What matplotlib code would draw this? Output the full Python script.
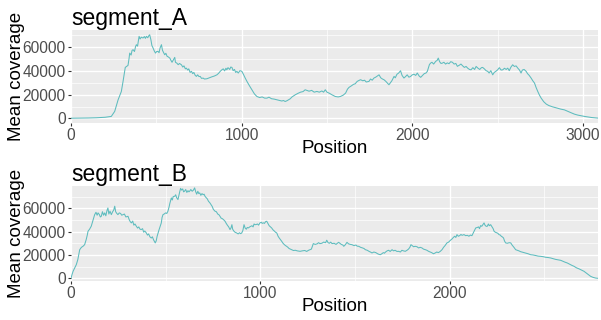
import numpy as np
import matplotlib
matplotlib.use("Agg")
import matplotlib.pyplot as plt
from matplotlib.ticker import MultipleLocator, FixedLocator

plt.rcParams["font.family"] = ["Liberation Sans", "DejaVu Sans"]

# ---- coverage profiles (position, mean coverage in thousands) ----
pos_a = [0, 50, 100, 150, 200, 236, 256, 276, 295, 305, 318, 326, 334, 340, 344, 352, 358, 364, 372, 378,
         383, 390, 399, 405, 412, 422, 430, 436, 442, 450, 455, 461, 468, 474, 481, 488, 495, 502, 510, 516,
         522, 530, 536, 543, 549, 556, 563, 570, 579, 586, 592, 600, 608, 612, 620, 628, 636, 647, 655, 662,
         670, 676, 684, 690, 698, 706, 713, 720, 728, 735, 742, 750, 757, 765, 774, 782, 796, 810, 825, 840,
         855, 865, 875, 884, 892, 900, 908, 913, 920, 930, 936, 943, 950, 958, 965, 972, 980, 990, 1001, 1010,
         1020, 1031, 1045, 1060, 1075, 1089, 1105, 1120, 1135, 1148, 1160, 1175, 1190, 1206, 1220, 1235, 1245, 1255, 1265, 1275,
         1284, 1295, 1305, 1314, 1330, 1345, 1360, 1372, 1382, 1395, 1410, 1425, 1441, 1455, 1470, 1480, 1490, 1500, 1515, 1529,
         1540, 1548, 1565, 1579, 1595, 1609, 1620, 1629, 1640, 1655, 1665, 1677, 1690, 1697, 1710, 1720, 1730, 1746, 1755, 1765,
         1775, 1785, 1795, 1805, 1815, 1825, 1834, 1845, 1855, 1863, 1872, 1880, 1893, 1900, 1910, 1920, 1931, 1940, 1951, 1960,
         1970, 1980, 1990, 2000, 2010, 2020, 2029, 2040, 2049, 2060, 2070, 2080, 2088, 2095, 2100, 2107, 2115, 2125, 2137, 2145,
         2152, 2160, 2168, 2176, 2185, 2195, 2205, 2215, 2225, 2235, 2245, 2255, 2264, 2275, 2285, 2295, 2305, 2315, 2325, 2335,
         2344, 2355, 2365, 2374, 2385, 2395, 2405, 2412, 2422, 2432, 2442, 2450, 2460, 2471, 2480, 2490, 2500, 2510, 2520, 2530,
         2540, 2550, 2559, 2568, 2578, 2588, 2598, 2608, 2618, 2628, 2637, 2645, 2655, 2667, 2675, 2685, 2696, 2706, 2716, 2725,
         2735, 2745, 2755, 2770, 2785, 2800, 2820, 2840, 2852, 2870, 2891, 2910, 2930, 2950, 2970, 2990, 3009, 3030, 3050, 3070,
         3088]
cov_a = [0.2, 0.3, 0.4, 0.6, 1.0, 1.7, 5.9, 15.6, 22.6, 31.0, 42.7, 43.5, 44.4, 50.0, 54.7, 53.0, 57.0, 57.5, 56.0, 60.0,
         61.7, 60.5, 68.7, 66.5, 68.0, 67.3, 68.5, 67.0, 68.7, 67.5, 69.0, 70.0, 66.0, 61.0, 58.9, 56.5, 54.7, 56.0, 56.1, 55.0,
         59.0, 61.7, 57.0, 55.0, 53.3, 54.5, 52.0, 51.5, 50.5, 48.5, 47.0, 49.0, 51.1, 47.0, 46.3, 45.0, 46.0, 44.9, 43.0, 44.0,
         41.5, 42.1, 40.5, 41.5, 38.5, 39.4, 37.5, 38.5, 36.0, 35.2, 36.5, 35.0, 35.2, 33.5, 33.8, 33.0, 33.2, 34.0, 34.8, 35.5,
         36.5, 37.8, 39.5, 40.7, 41.5, 39.8, 42.0, 40.7, 42.5, 41.0, 43.0, 42.7, 40.0, 41.0, 38.5, 39.4, 38.0, 40.0, 39.4, 37.0,
         34.0, 31.0, 27.5, 24.0, 20.5, 18.4, 17.5, 18.0, 17.0, 17.0, 17.8, 16.5, 16.2, 15.6, 15.0, 14.6, 15.0, 14.2, 14.8, 15.6,
         16.4, 18.0, 19.0, 19.8, 21.0, 22.0, 22.5, 24.0, 23.5, 22.8, 23.5, 22.0, 22.6, 22.0, 23.0, 22.0, 24.0, 22.0, 21.0, 19.8,
         19.0, 18.4, 18.0, 18.4, 19.5, 21.2, 24.5, 26.0, 27.0, 28.5, 29.0, 31.0, 32.0, 32.4, 31.5, 32.0, 30.5, 31.0, 33.0, 32.0,
         33.8, 34.5, 35.5, 36.5, 34.0, 33.0, 32.4, 31.0, 29.5, 28.2, 30.0, 31.5, 35.2, 34.0, 37.0, 38.0, 39.9, 36.0, 33.8, 35.0,
         36.5, 34.5, 35.2, 36.5, 37.0, 36.0, 38.0, 35.5, 34.4, 36.0, 37.5, 38.0, 39.4, 42.5, 45.0, 46.3, 47.0, 45.5, 47.8, 48.5,
         50.5, 47.5, 46.0, 46.3, 47.0, 45.5, 46.5, 45.8, 47.5, 47.0, 45.5, 46.0, 43.6, 44.5, 45.5, 44.0, 42.7, 43.5, 42.0, 41.0,
         40.7, 42.5, 41.0, 43.5, 42.0, 41.0, 42.5, 42.7, 41.5, 40.0, 39.4, 38.0, 40.0, 36.5, 38.5, 39.5, 40.7, 42.5, 40.5, 40.7,
         42.0, 41.0, 42.1, 40.0, 43.0, 44.9, 43.5, 44.0, 42.1, 40.5, 38.0, 40.5, 41.0, 39.4, 37.5, 36.0, 33.8, 31.5, 29.6, 26.0,
         22.6, 19.5, 17.0, 14.0, 12.0, 10.8, 9.8, 9.0, 8.6, 7.8, 7.2, 6.0, 4.8, 3.6, 2.8, 2.2, 1.7, 1.2, 0.8, 0.5,
         0.3]

pos_b = [0, 5, 11, 20, 28, 36, 42, 46, 55, 64, 72, 80, 86, 90, 98, 107, 115, 120, 125, 132,
         138, 143, 150, 155, 160, 166, 172, 178, 184, 190, 195, 200, 206, 213, 220, 226, 231, 236, 242, 248,
         255, 262, 268, 275, 282, 290, 301, 308, 313, 319, 326, 332, 338, 345, 352, 358, 365, 371, 378, 384,
         390, 398, 404, 410, 417, 424, 430, 436, 441, 445, 450, 455, 460, 466, 472, 477, 481, 486, 492, 500,
         506, 512, 518, 522, 526, 530, 535, 540, 548, 553, 558, 565, 570, 575, 579, 584, 590, 595, 600, 606,
         612, 618, 623, 627, 633, 640, 647, 653, 659, 664, 670, 675, 680, 686, 692, 698, 703, 708, 714, 720,
         726, 734, 740, 746, 752, 761, 768, 775, 781, 787, 793, 800, 807, 814, 820, 826, 833, 840, 845, 850,
         854, 860, 866, 875, 883, 890, 896, 902, 908, 914, 920, 926, 931, 937, 944, 950, 956, 962, 967, 972,
         978, 985, 991, 998, 1005, 1010, 1016, 1022, 1028, 1034, 1040, 1047, 1054, 1060, 1067, 1074, 1080, 1087, 1094, 1100,
         1107, 1113, 1120, 1126, 1133, 1139, 1146, 1152, 1159, 1166, 1175, 1185, 1195, 1210, 1222, 1235, 1245, 1255, 1263, 1270,
         1275, 1280, 1290, 1300, 1308, 1315, 1325, 1335, 1345, 1351, 1358, 1365, 1372, 1379, 1390, 1400, 1407, 1414, 1420, 1428,
         1436, 1441, 1448, 1458, 1466, 1476, 1484, 1495, 1505, 1512, 1520, 1530, 1540, 1548, 1555, 1565, 1575, 1582, 1590, 1600,
         1610, 1620, 1627, 1634, 1642, 1650, 1656, 1661, 1670, 1678, 1686, 1696, 1704, 1712, 1722, 1731, 1740, 1748, 1756, 1766,
         1775, 1783, 1790, 1796, 1802, 1810, 1818, 1828, 1836, 1845, 1854, 1862, 1872, 1880, 1889, 1898, 1905, 1915, 1924, 1932,
         1941, 1951, 1960, 1968, 1976, 1986, 1995, 2004, 2013, 2020, 2027, 2033, 2039, 2046, 2053, 2060, 2066, 2076, 2085, 2094,
         2102, 2110, 2118, 2124, 2130, 2138, 2146, 2153, 2158, 2164, 2170, 2176, 2182, 2187, 2193, 2199, 2205, 2210, 2217, 2224,
         2230, 2235, 2241, 2248, 2255, 2261, 2268, 2273, 2279, 2285, 2290, 2296, 2305, 2315, 2323, 2330, 2340, 2349, 2358, 2366,
         2375, 2384, 2395, 2405, 2415, 2428, 2440, 2455, 2467, 2481, 2495, 2507, 2520, 2534, 2548, 2560, 2575, 2587, 2600, 2610,
         2622, 2635, 2647, 2657, 2670, 2685, 2697, 2710, 2722, 2733, 2745, 2758, 2772, 2784]
cov_b = [0.0, 3.0, 6.0, 9.0, 11.7, 16.0, 21.0, 24.5, 26.5, 27.5, 28.8, 33.0, 37.0, 40.3, 42.0, 44.6, 49.0, 52.0, 54.5, 56.5,
         54.0, 56.0, 54.5, 52.5, 53.1, 57.0, 54.0, 56.0, 53.5, 58.0, 60.2, 55.0, 57.5, 54.5, 57.0, 58.5, 61.7, 57.0, 55.5, 54.5,
         56.0, 55.5, 54.0, 54.5, 55.0, 52.5, 53.1, 50.0, 48.5, 47.4, 49.0, 45.5, 46.5, 44.6, 43.0, 44.0, 42.0, 41.7, 42.5, 39.5,
         40.5, 38.8, 37.0, 38.0, 35.5, 34.5, 35.5, 33.0, 31.5, 30.3, 32.0, 36.0, 38.8, 42.0, 45.0, 47.4, 52.0, 54.5, 55.0, 56.0,
         55.5, 57.4, 61.0, 64.0, 66.5, 68.8, 67.0, 70.0, 70.2, 71.5, 69.0, 67.4, 71.0, 74.5, 77.0, 75.5, 76.5, 74.0, 74.6, 76.0,
         73.5, 75.0, 74.0, 74.6, 76.0, 74.5, 75.5, 77.4, 74.0, 72.0, 74.5, 72.5, 73.1, 71.0, 72.5, 71.5, 72.0, 70.2, 69.0, 68.0,
         66.0, 64.5, 63.0, 61.5, 59.0, 57.4, 57.0, 55.0, 54.5, 53.1, 51.5, 51.0, 50.0, 48.8, 47.0, 45.5, 44.0, 41.7, 43.0, 45.9,
         42.0, 40.5, 39.5, 38.8, 38.0, 39.0, 38.2, 38.8, 41.0, 45.9, 43.0, 42.0, 43.5, 43.1, 44.0, 44.5, 45.0, 44.0, 46.5, 45.9,
         46.0, 46.5, 45.5, 47.4, 48.0, 47.0, 47.5, 47.0, 48.5, 48.8, 47.0, 45.0, 44.0, 43.1, 41.5, 40.5, 39.5, 38.8, 36.0, 34.5,
         33.0, 31.7, 30.0, 29.0, 28.0, 27.4, 26.5, 25.5, 25.0, 24.5, 23.8, 24.0, 23.5, 23.1, 23.5, 23.8, 23.0, 24.0, 24.5, 25.0,
         27.5, 29.7, 29.0, 29.5, 30.5, 29.7, 30.0, 31.0, 30.5, 32.6, 30.5, 30.0, 31.0, 29.7, 30.0, 29.0, 30.0, 30.8, 30.0, 29.0,
         28.5, 27.4, 28.5, 30.8, 29.5, 29.0, 28.8, 28.0, 28.5, 27.5, 27.4, 26.5, 26.0, 25.5, 24.5, 24.0, 23.0, 22.5, 21.7, 22.5,
         22.0, 21.0, 20.5, 20.2, 21.0, 22.0, 21.5, 22.4, 23.5, 24.0, 23.0, 24.5, 23.5, 24.0, 23.0, 23.1, 22.5, 24.0, 23.5, 23.1,
         24.0, 25.0, 26.5, 28.8, 28.0, 27.0, 27.4, 27.0, 26.0, 26.5, 26.0, 25.0, 24.5, 24.0, 23.1, 22.5, 22.0, 21.0, 21.7, 22.5,
         22.0, 23.1, 24.5, 26.5, 28.0, 30.3, 31.0, 32.5, 33.7, 35.0, 36.0, 35.0, 37.4, 36.0, 36.5, 37.5, 36.8, 37.4, 36.5, 36.8,
         36.0, 37.0, 36.5, 38.5, 40.5, 43.1, 43.5, 44.0, 42.5, 45.1, 44.5, 46.0, 47.4, 45.5, 44.5, 44.5, 46.5, 45.0, 45.9, 44.0,
         42.5, 40.3, 39.5, 39.0, 38.5, 37.4, 37.0, 36.0, 35.4, 34.5, 32.0, 30.3, 30.0, 30.5, 30.3, 28.5, 26.5, 24.5, 24.0, 23.5,
         22.8, 22.4, 22.0, 21.5, 21.0, 20.2, 20.0, 19.5, 19.0, 18.8, 18.5, 18.0, 17.8, 17.4, 16.8, 16.2, 15.8, 15.4, 14.5, 13.8,
         13.1, 12.0, 11.0, 10.3, 9.0, 8.0, 7.0, 6.0, 4.5, 3.2, 1.7, 0.8, 0.2, 0.0]

segments = ["segment_A", "segment_B"]
x_ticks = [[0, 1000, 2000, 3000], [0, 1000, 2000]]
y_ticks = [0, 20000, 40000, 60000]
y_limits = [(-3800, 74000), (-2300, 79000)]
x_label = "Position"
y_label = "Mean coverage"

line_color = "#5DBCBE"
panel_bg = "#EBEBEB"
tick_grey = "#4D4D4D"

W, H = 601, 320
fig = plt.figure(figsize=(W / 100, H / 100), dpi=100)


def px_box(left, top, right, bottom):
    return [left / W, 1 - bottom / H, (right - left) / W, (bottom - top) / H]


panels = [
    dict(box=px_box(71, 30, 598, 123), pos=pos_a, cov=cov_a),
    dict(box=px_box(71, 186, 598, 281), pos=pos_b, cov=cov_b),
]

for i, p in enumerate(panels):
    ax = fig.add_axes(p["box"])
    x = np.asarray(p["pos"], dtype=float)
    y = np.asarray(p["cov"], dtype=float) * 1000
    ax.set_facecolor(panel_bg)
    ax.plot(x, y, color=line_color, lw=0.75, solid_joinstyle="round")

    ax.set_xlim(0, x.max())
    ax.set_ylim(*y_limits[i])

    ax.xaxis.set_major_locator(FixedLocator(x_ticks[i]))
    ax.xaxis.set_minor_locator(MultipleLocator(500))
    ax.yaxis.set_major_locator(FixedLocator(y_ticks))
    ax.yaxis.set_minor_locator(MultipleLocator(10000))
    ax.set_xticklabels([str(t) for t in x_ticks[i]])
    ax.set_yticklabels([str(t) for t in y_ticks])

    ax.grid(which="major", color="white", lw=1.0)
    ax.grid(which="minor", color="white", lw=0.5)
    ax.set_axisbelow(True)
    for s in ax.spines.values():
        s.set_visible(False)

    ax.tick_params(which="major", length=2.5, width=0.8, color="#333333",
                   labelsize=11.2, labelcolor=tick_grey, pad=1.2)
    ax.tick_params(which="minor", length=0)

    ax.set_xlabel(x_label, fontsize=13.5, color="black", labelpad=-2.5)
    ax.set_ylabel(y_label, fontsize=13.5, color="black", labelpad=-1.6)

    title_offset = 5.5 / (p["box"][3] * H)
    ax.text(0, 1.0 + title_offset, segments[i], transform=ax.transAxes,
            ha="left", va="baseline", fontsize=16.5, color="black")

fig.savefig("out.png", dpi=100)
